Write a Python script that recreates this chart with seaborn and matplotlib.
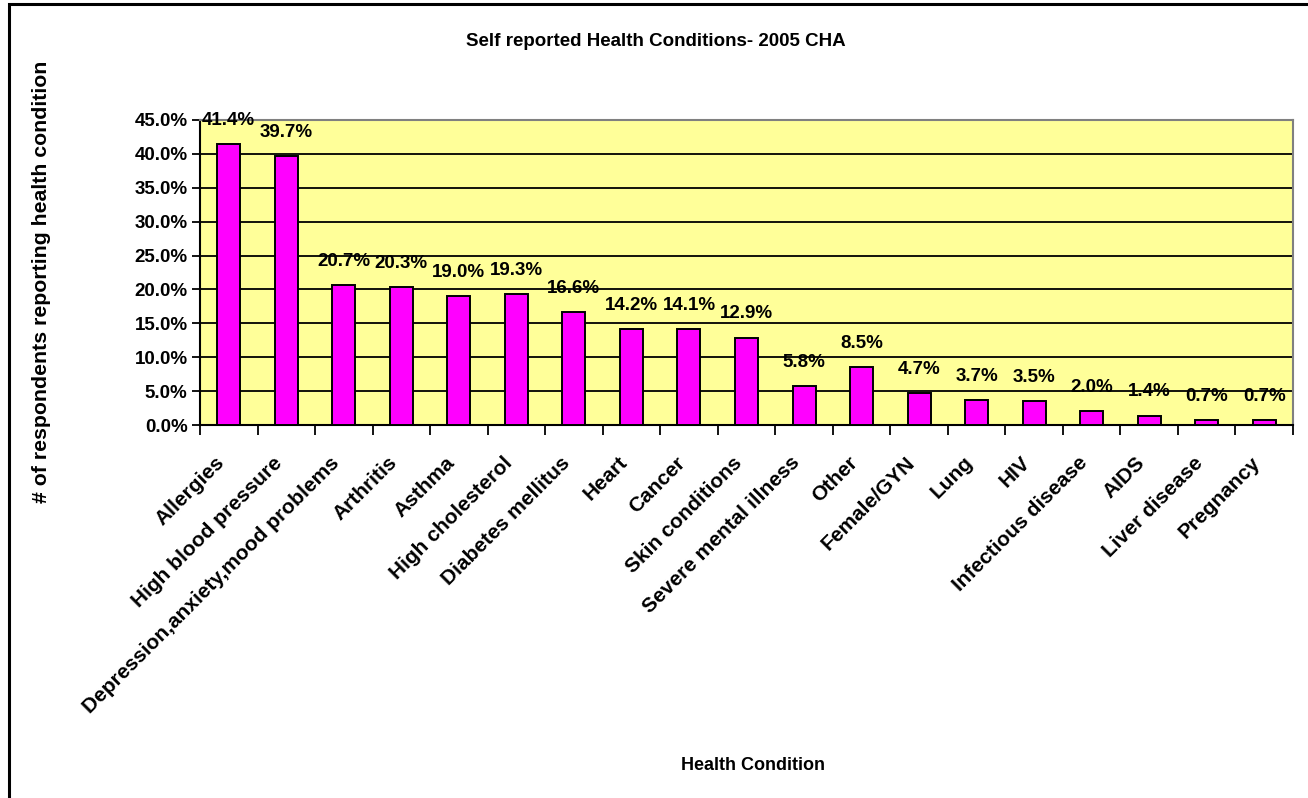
import matplotlib
matplotlib.use("Agg")
import matplotlib.pyplot as plt
import matplotlib.ticker as ticker
import matplotlib.transforms as mtransforms
from matplotlib.patches import Rectangle
import pandas as pd
import seaborn as sns

conditions = ['Allergies', 'High blood pressure', 'Depression,anxiety,mood problems',
              'Arthritis', 'Asthma', 'High cholesterol', 'Diabetes mellitus', 'Heart',
              'Cancer', 'Skin conditions', 'Severe mental illness', 'Other', 'Female/GYN',
              'Lung', 'HIV', 'Infectious disease', 'AIDS', 'Liver disease', 'Pregnancy']
pct = [41.4, 39.7, 20.7, 20.3, 19.0, 19.3, 16.6, 14.2, 14.1, 12.9,
       5.8, 8.5, 4.7, 3.7, 3.5, 2.0, 1.4, 0.7, 0.7]

df = pd.DataFrame({'condition': conditions, 'share': [v / 100 for v in pct]})

sns.set_style("white")
plt.rcParams['font.family'] = ['Liberation Sans', 'DejaVu Sans']
plt.rcParams['font.weight'] = 'bold'
plt.rcParams['text.color'] = 'black'
plt.rcParams['xtick.color'] = 'black'
plt.rcParams['ytick.color'] = 'black'

W, H = 1308, 798
fig = plt.figure(figsize=(W / 100, H / 100), dpi=100)
ax = fig.add_axes([200 / W, 1 - 425 / H, (1293 - 200) / W, (425 - 120) / H])

# outer chart border
fig.patches.append(Rectangle((9 / W, -0.05), 1.1, 1 - 4 / H + 0.05, transform=fig.transFigure,
                             fill=False, edgecolor='black', linewidth=2.2, zorder=0))

ax.set_facecolor('#FFFF99')
sns.barplot(data=df, x='condition', y='share', color='#FF00FF', saturation=1,
            width=0.4, edgecolor='black', linewidth=1.4, ax=ax, zorder=3)

ax.set_ylim(0, 0.45)
ax.set_xlim(-0.5, len(conditions) - 0.5)
ax.yaxis.set_major_locator(ticker.MultipleLocator(0.05))
ax.yaxis.set_major_formatter(ticker.FuncFormatter(lambda v, p: f"{v * 100:.1f}%"))
ax.grid(axis='y', color='black', linewidth=1.3, zorder=1)
ax.set_axisbelow(True)

for s in ['top', 'right']:
    ax.spines[s].set_color('#808080')
    ax.spines[s].set_linewidth(1.5)
for s in ['left', 'bottom']:
    ax.spines[s].set_color('black')
    ax.spines[s].set_linewidth(1.5)

ax.tick_params(axis='y', left=True, length=6, width=1.3, labelsize=13.5, pad=3)
ax.set_xticks(range(len(conditions)))
ax.set_xticklabels(conditions, rotation=45, ha='right', va='center', rotation_mode='anchor',
                   fontsize=15, fontweight='bold')
ax.tick_params(axis='x', which='major', length=0, pad=25)
ax.set_xticks([i - 0.5 for i in range(len(conditions) + 1)], minor=True)
ax.tick_params(axis='x', which='minor', bottom=True, length=7, width=1.3)
shift = mtransforms.ScaledTranslation(-7 / 100, 0, fig.dpi_scale_trans)
for lab in ax.get_xticklabels():
    lab.set_transform(lab.get_transform() + shift)
for lab in ax.get_yticklabels():
    lab.set_fontweight('bold')

for i, v in enumerate(pct):
    ax.annotate(f"{v:.1f}%", (i, v / 100), xytext=(0, 17), textcoords='offset points',
                ha='center', va='center', fontsize=13.5, fontweight='bold', zorder=5)

ax.set_xlabel('')
ax.set_ylabel('')
fig.text(656 / W, 1 - 42 / H, 'Self reported Health Conditions- 2005 CHA',
         ha='center', va='center', fontsize=13.5, fontweight='bold')
fig.text(753 / W, 1 - 766 / H, 'Health Condition', ha='center', va='center',
         fontsize=13, fontweight='bold')
fig.text(42 / W, 1 - 282 / H, '# of respondents reporting health condition', rotation=90,
         ha='center', va='center', fontsize=15.3, fontweight='bold')

fig.savefig('out.png', dpi=100)
